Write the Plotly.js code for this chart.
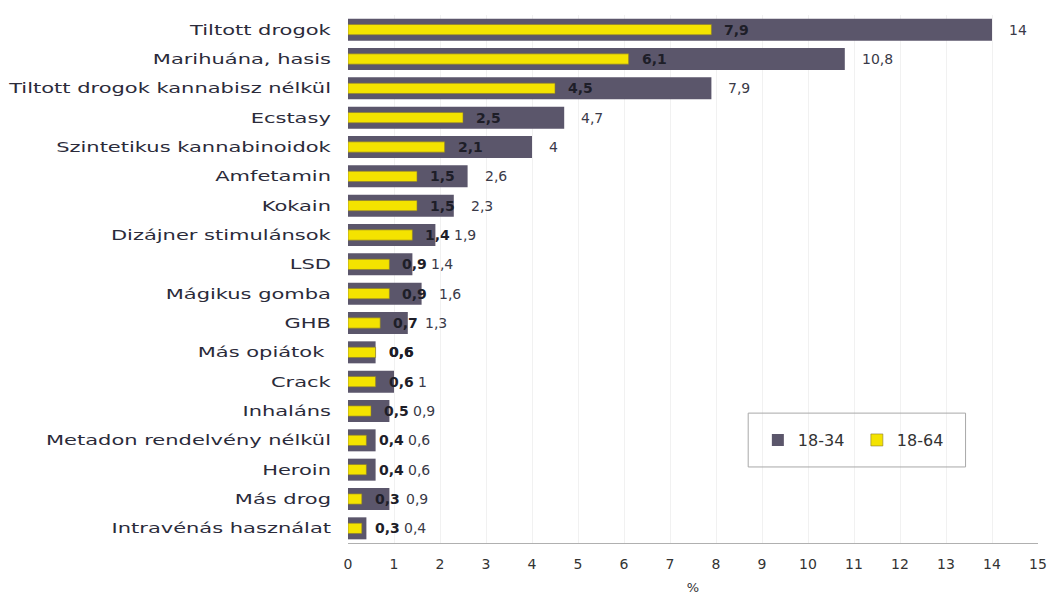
<!DOCTYPE html>
<html>
<head>
<meta charset="utf-8">
<script src="https://cdn.plot.ly/plotly-3.0.1.min.js"></script>
<style>
html,body{margin:0;padding:0;background:#fff;}
#chart{width:1057px;height:602px;}
#chart .yaxislayer-above .ytick{transform-box:fill-box;transform-origin:100% 50%;transform:scaleX(1.5);}
</style>
</head>
<body>
<div id="chart"></div>
<script>
const categories = [
  "Tiltott drogok",
  "Marihuána, hasis",
  "Tiltott drogok kannabisz nélkül",
  "Ecstasy",
  "Szintetikus kannabinoidok",
  "Amfetamin",
  "Kokain",
  "Dizájner stimulánsok",
  "LSD",
  "Mágikus gomba",
  "GHB",
  "Más opiátok ",
  "Crack",
  "Inhaláns",
  "Metadon rendelvény nélkül",
  "Heroin",
  "Más drog",
  "Intravénás használat"
];
const age1834 = [14, 10.8, 7.9, 4.7, 4, 2.6, 2.3, 1.9, 1.4, 1.6, 1.3, 0.6, 1, 0.9, 0.6, 0.6, 0.9, 0.4];
const age1864 = [7.9, 6.1, 4.5, 2.5, 2.1, 1.5, 1.5, 1.4, 0.9, 0.9, 0.7, 0.6, 0.6, 0.5, 0.4, 0.4, 0.3, 0.3];
const xTicks = [0,1,2,3,4,5,6,7,8,9,10,11,12,13,14,15];
const seriesNames = ["18-34", "18-64"];

const fmt = v => String(v).replace('.', ',');

const FONT = "DejaVu Sans, Open Sans, sans-serif";

// label offsets (px) to the right of each bar end
const PX_PER_UNIT = 690 / 15;   // plot width / x range
const Y_SHIFT = 11;
const G_SHIFT = 15;
const LABEL_W = 25;

const yellowFont = {family: FONT, size: 14, color: '#1e1e28', weight: 'bold'};
const grayFont = {family: FONT, size: 14, color: '#3a3a48'};

const yellowLabels = age1864.map((v, i) => ({
  x: v, y: categories[i], xref: 'x', yref: 'y',
  text: fmt(v), showarrow: false, xanchor: 'left', yanchor: 'middle',
  xshift: Y_SHIFT, font: yellowFont
}));
const grayLabels = age1834.map((g, i) => {
  const y = age1864[i];
  let shift = G_SHIFT;
  let font = grayFont;
  if (g === y) {
    shift = Y_SHIFT;      // equal values: the two labels coincide
    font = yellowFont;
  } else {
    const need = (y - g) * PX_PER_UNIT + Y_SHIFT + LABEL_W + 4;
    shift = Math.max(G_SHIFT, need);
  }
  return {
    x: g, y: categories[i], xref: 'x', yref: 'y',
    text: fmt(g), showarrow: false, xanchor: 'left', yanchor: 'middle',
    xshift: shift, font: font
  };
});

const traces = [
  {
    type: 'bar', orientation: 'h', name: seriesNames[0],
    y: categories, x: age1834,
    width: 0.75,
    marker: {color: '#5b566b'},
    hoverinfo: 'x+y'
  },
  {
    type: 'bar', orientation: 'h', name: seriesNames[1],
    y: categories, x: age1864,
    width: 0.35,
    marker: {color: '#f4e300', line: {color: '#8a7a30', width: 0.6}},
    hoverinfo: 'x+y'
  }
];

const layout = {
  width: 1057, height: 602,
  paper_bgcolor: '#ffffff', plot_bgcolor: '#ffffff',
  barmode: 'overlay',
  margin: {l: 348, r: 19, t: 15, b: 59},
  font: {family: FONT, size: 14, color: '#333'},
  xaxis: {
    range: [0, 15], tickvals: xTicks, ticktext: xTicks.map(String),
    showgrid: true, gridcolor: '#f1f1f1', zeroline: false,
    showline: true, linecolor: '#b0b0b0', linewidth: 1,
    ticks: '', ticklabelstandoff: 8,
    tickfont: {family: FONT, size: 14, color: '#333'},
    title: {text: '%', font: {family: FONT, size: 13, color: '#333'}, standoff: 12}
  },
  yaxis: {
    type: 'category', autorange: 'reversed',
    showgrid: false, zeroline: false, showline: false,
    ticks: '', ticklabelstandoff: 16,
    tickfont: {family: FONT, size: 14, color: '#2b2b3a'}
  },
  showlegend: true,
  legend: {
    orientation: 'h', x: 0.594, y: 0.195, xanchor: 'left', yanchor: 'middle',
    bgcolor: 'rgba(0,0,0,0)', borderwidth: 0,
    font: {family: FONT, size: 16, color: '#333'},
    traceorder: 'normal', itemwidth: 30, entrywidth: 54
  },
  annotations: yellowLabels.concat(grayLabels),
  shapes: [{
    type: 'rect', xref: 'paper', yref: 'paper',
    x0: 0.58, x1: 0.895, y0: 0.144, y1: 0.246,
    line: {color: '#a8a8a8', width: 1}, fillcolor: 'rgba(0,0,0,0)'
  }]
};

Plotly.newPlot('chart', traces, layout, {displayModeBar: false, staticPlot: true});
</script>
</body>
</html>
